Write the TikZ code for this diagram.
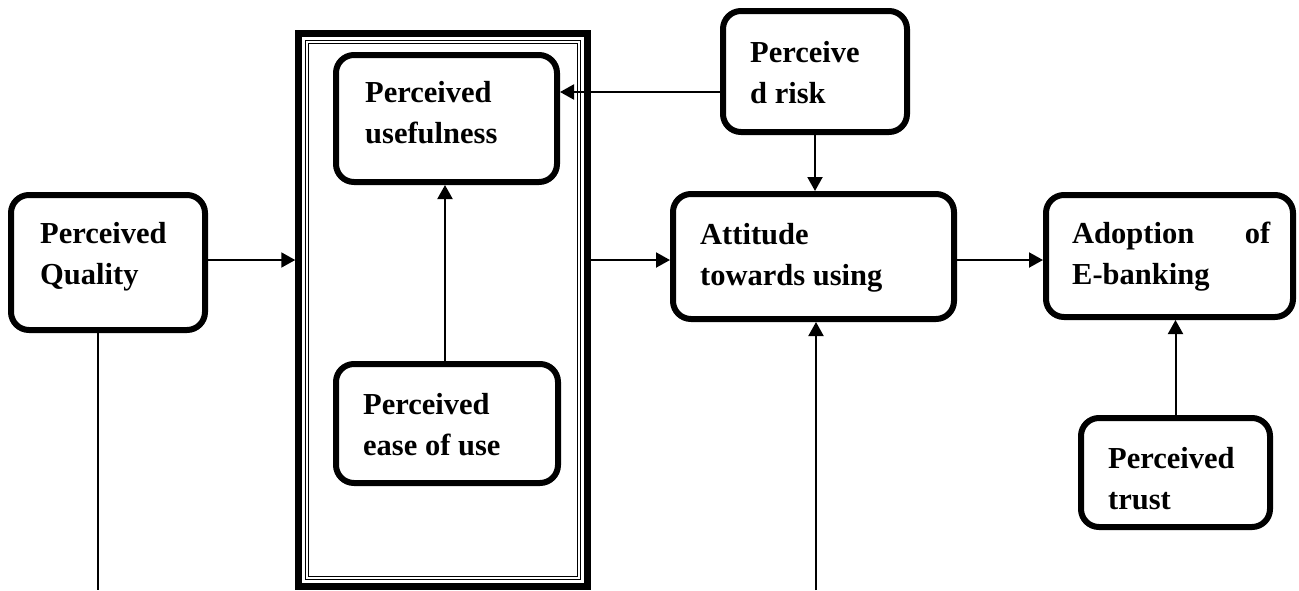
\documentclass[tikz,border=0pt]{standalone}
\usepackage{fontspec}
\setmainfont{Liberation Serif}
\usetikzlibrary{arrows.meta,calc}
\begin{document}
\begin{tikzpicture}[x=1pt,y=-1pt,
  rbox/.style={draw=black,line width=6pt,rounded corners=18pt,inner sep=0pt,fill=white},
  conn/.style={draw=black,line width=2pt},
  arr/.style={conn,-{Triangle[length=14pt,width=15pt]}},
  lbl/.style={anchor=base west,inner sep=0pt,font=\fontsize{30.5}{41}\selectfont\bfseries},
  frameline/.style={draw=black,line width=1.3pt}]
\useasboundingbox (0,0) rectangle (1299,590);
% outer frame
\node[draw=black,line width=6.5pt,inner sep=0pt,minimum width=289pt,minimum height=553pt] (frame) at (443,310) {};
\draw[frameline] ([shift={(10,10)}]frame.north west) rectangle ([shift={(-10,-10)}]frame.south east);
\draw[frameline] ([shift={(13.5,13.5)}]frame.north west) rectangle ([shift={(-13.5,-13.5)}]frame.south east);
% boxes
\node[rbox,minimum width=194pt,minimum height=135pt] (pq) at (108,262.5) {};
\node[rbox,minimum width=221pt,minimum height=127pt] (use) at (446.5,118.5) {};
\node[rbox,minimum width=184pt,minimum height=121pt] (risk) at (815,71.5) {};
\node[rbox,minimum width=281pt,minimum height=125pt] (att) at (813.5,256.5) {};
\node[rbox,minimum width=247pt,minimum height=122pt] (adopt) at (1169.5,256) {};
\node[rbox,minimum width=222pt,minimum height=119pt] (ease) at (447,423.5) {};
\node[rbox,minimum width=189pt,minimum height=109pt] (trust) at (1175.5,472.5) {};
% labels
\node[lbl] (pqt) at (40,243) {\parbox[t]{160pt}{Perceived\\Quality}};
\node[lbl] (uset) at (365,102) {\parbox[t]{180pt}{Perceived\\usefulness}};
\node[lbl] (riskt) at (750,62) {\parbox[t]{150pt}{Perceive\\d risk}};
\node[lbl] (attt) at (700,244) {\parbox[t]{240pt}{Attitude\\towards using}};
\node[lbl] (adoptt) at (1072,243) {\parbox[t]{198pt}{Adoption\hfill of\\E-banking}};
\node[lbl] (easet) at (363,414) {\parbox[t]{180pt}{Perceived\\ease of use}};
\node[lbl] (trustt) at (1108,468) {\parbox[t]{150pt}{Perceived\\trust}};
% connectors
\coordinate (pqend) at (98,590);
\coordinate (attin) at (816,590);
\draw[arr] (pq.east |- 0,260) -- (frame.west |- 0,260);
\draw[arr] (frame.east |- 0,260) -- (att.west |- 0,260);
\draw[arr] (att.east |- 0,260) -- (adopt.west |- 0,260);
\draw[arr] (risk.west |- 0,92) -- (use.east |- 0,92);
\draw[arr] (risk.south) -- (risk.south |- att.north);
\draw[arr] (ease.north -| 445,0) -- (use.south -| 445,0);
\draw[arr] (trust.north) -- (trust.north |- adopt.south);
\draw[conn] (pqend |- pq.south) -- (pqend);
\draw[arr] (attin) -- (attin |- att.south);
\end{tikzpicture}
\end{document}
